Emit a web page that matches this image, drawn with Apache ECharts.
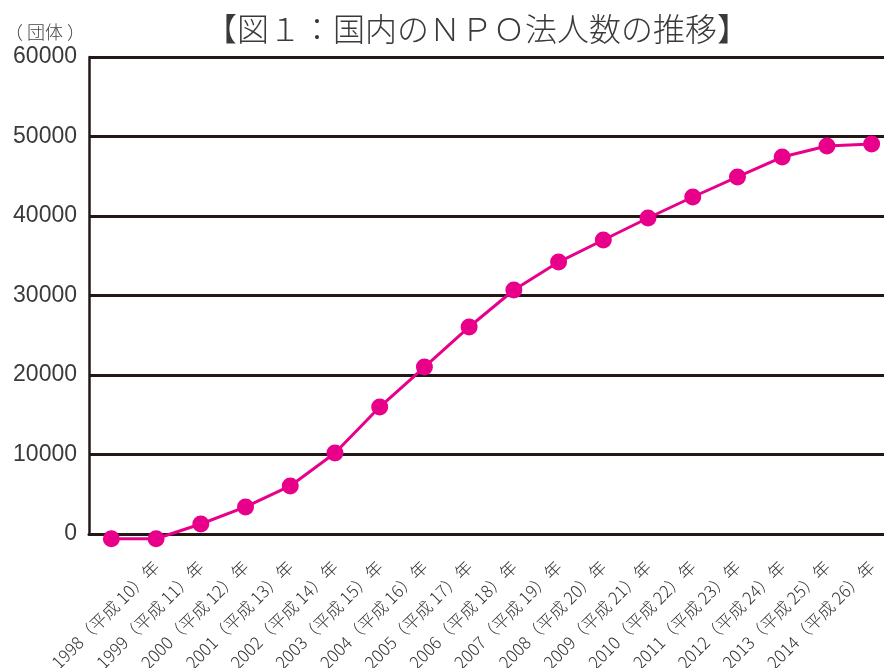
<!DOCTYPE html>
<html>
<head>
<meta charset="utf-8">
<script src="https://cdn.jsdelivr.net/npm/echarts@6/dist/echarts.min.js"></script>
<style>
html,body{margin:0;padding:0;background:#fff;}
#chart{width:884px;height:668px;}
</style>
</head>
<body>
<div id="chart"></div>
<script>
// Point slots (18 markers are drawn in the reference)
const categories = ['1998','1999','2000','2001','2002','2003','2004','2005','2006','2007','2008','2009','2010','2011','2012','2013','2014','2015'];
// Tick labels as printed (each sits one slot to the right in the reference)
const tickLabels = [
  '1998（平成 10）年','1999（平成 11）年','2000（平成 12）年','2001（平成 13）年',
  '2002（平成 14）年','2003（平成 15）年','2004（平成 16）年','2005（平成 17）年',
  '2006（平成 18）年','2007（平成 19）年','2008（平成 20）年','2009（平成 21）年',
  '2010（平成 22）年','2011（平成 23）年','2012（平成 24）年','2013（平成 25）年',
  '2014（平成 26）年'
];
// NPO count (団体)
const values = [-600, -600, 1260, 3400, 6040, 10190, 15970, 21000, 26040, 30690, 34210, 36980, 39750, 42390, 44910, 47420, 48800, 49060];
const yTicks = { min: 0, max: 60000, interval: 10000 };

const FONT = '"Noto Sans CJK JP Light", "Noto Sans CJK JP DemiLight", "Noto Sans CJK JP", "Noto Sans", sans-serif';
const chart = echarts.init(document.getElementById('chart'));
chart.setOption({
  animation: false,
  backgroundColor: '#ffffff',
  title: [
    {
      text: '【図１：国内のＮＰＯ法人数の推移】',
      left: 472, top: 8, textAlign: 'center',
      textStyle: { fontFamily: FONT, fontSize: 32, fontWeight: 300, color: '#3a3a3a' }
    },
    {
      text: '（ 団体 ）',
      left: 0, top: 18,
      textStyle: { fontFamily: FONT, fontSize: 18, fontWeight: 300, color: '#444444' }
    }
  ],
  grid: { left: 89, top: 57, width: 805, height: 477, containLabel: false, outerBoundsMode: 'none' },
  xAxis: {
    type: 'category',
    data: categories,
    boundaryGap: true,
    axisLine: { show: true, lineStyle: { color: '#231815', width: 3 } },
    axisTick: { show: false },
    axisLabel: {
      interval: 0,
      rotate: 45,
      margin: 30,
      fontFamily: FONT,
      fontSize: 17,
      fontWeight: 300,
      color: '#333333',
      formatter: function (v, i) { return i > 0 ? (tickLabels[i - 1] || '') : ''; }
    },
    splitLine: { show: false }
  },
  yAxis: {
    type: 'value',
    min: yTicks.min, max: yTicks.max, interval: yTicks.interval,
    axisLine: { show: true, lineStyle: { color: '#231815', width: 2.5 } },
    axisTick: { show: false },
    axisLabel: {
      margin: 12,
      fontFamily: '"Liberation Sans", "Noto Sans", sans-serif',
      fontSize: 23,
      color: '#3a3a3a',
      formatter: function (v) { return String(v); }
    },
    splitLine: { show: true, lineStyle: { color: '#231815', width: 3 } }
  },
  series: [{
    type: 'line',
    data: values,
    clip: false,
    symbol: 'circle',
    symbolSize: 17,
    itemStyle: { color: '#e8008a' },
    lineStyle: { color: '#e8008a', width: 3 }
  }]
});
</script>
</body>
</html>
